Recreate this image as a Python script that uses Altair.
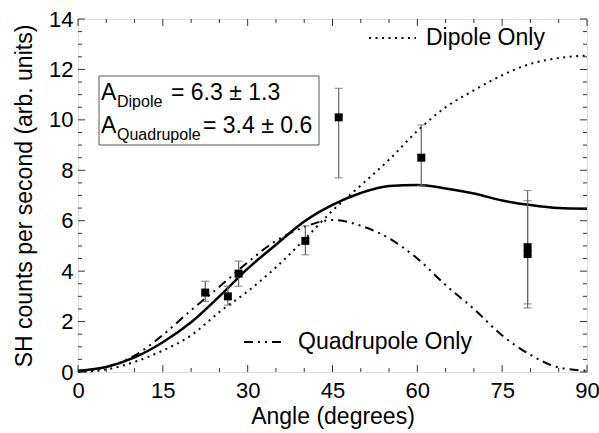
import altair as alt
import pandas as pd

# ---- data ----
angle_grid = [0, 5, 10, 15, 20, 25, 30, 35, 40, 45, 50, 55, 60, 65, 70, 75, 80, 85, 90]
fit_total = [0.05, 0.2, 0.58, 1.18, 1.97, 3.0, 4.1, 5.05, 5.97, 6.63, 7.1, 7.38, 7.42, 7.28, 7.08, 6.8, 6.62, 6.5, 6.47]
dipole_only = [0.0, 0.1, 0.4, 0.85, 1.45, 2.38, 3.2, 4.15, 5.25, 6.4, 7.4, 8.42, 9.56, 10.5, 11.17, 11.77, 12.22, 12.45, 12.55]
quad_only = [0.0, 0.2, 0.65, 1.47, 2.45, 3.38, 4.35, 5.2, 5.75, 6.03, 5.8, 5.3, 4.5, 3.45, 2.5, 1.45, 0.68, 0.18, 0.05]

pt_angle = [22.5, 26.5, 28.4, 40.2, 46.1, 60.7, 79.5, 79.5]
pt_value = [3.15, 3.0, 3.9, 5.2, 10.1, 8.5, 4.95, 4.68]
pt_low = [2.8, 2.65, 3.4, 4.65, 7.7, 7.4, 2.7, 2.54]
pt_high = [3.6, 3.4, 4.4, 5.8, 11.25, 9.8, 7.2, 6.8]

x_major = [0, 15, 30, 45, 60, 75, 90]
x_minor = [5, 10, 20, 25, 35, 40, 50, 55, 65, 70, 80, 85]
y_major = [0, 2, 4, 6, 8, 10, 12, 14]
y_minor = [0.5, 1, 1.5, 2.5, 3, 3.5, 4.5, 5, 5.5, 6.5, 7, 7.5, 8.5, 9, 9.5,
           10.5, 11, 11.5, 12.5, 13, 13.5]

W, H = 509, 353
FONT = "Liberation Sans"

xs = alt.Scale(domain=[0, 90], nice=False, zero=False)
ys = alt.Scale(domain=[0, 14], nice=False, zero=False)

xaxis = alt.Axis(values=x_major, ticks=False, domain=False, grid=False,
                 title="Angle (degrees)", labelFontSize=22, titleFontSize=23,
                 labelPadding=8, titlePadding=4, labelFont=FONT, titleFont=FONT,
                 labelColor="black", titleColor="black", titleFontWeight="normal",
                 labelFlush=False)
yaxis = alt.Axis(values=y_major, ticks=False, domain=False, grid=False,
                 title="SH counts per second (arb. units)", labelFontSize=22,
                 titleFontSize=23, labelPadding=5, titlePadding=12,
                 labelFont=FONT, titleFont=FONT, labelColor="black",
                 titleColor="black", titleFontWeight="normal", labelFlush=False)

def X(f="angle"):
    return alt.X(f + ":Q", scale=xs, axis=xaxis)

def Y(f):
    return alt.Y(f + ":Q", scale=ys, axis=yaxis)

curves = pd.DataFrame({"angle": angle_grid, "total": fit_total,
                       "dipole": dipole_only, "quad": quad_only})
pts = pd.DataFrame({"angle": pt_angle, "value": pt_value,
                    "low": pt_low, "high": pt_high})

base = alt.Chart(curves)
total_line = base.mark_line(color="black", strokeWidth=2.5, interpolate="monotone").encode(
    x=X(), y=Y("total"))
dip_line = base.mark_line(color="black", strokeWidth=2, strokeDash=[2, 4.5],
                          interpolate="monotone").encode(x=X(), y=Y("dipole"))
quad_line = base.mark_line(color="black", strokeWidth=2, strokeDash=[9, 5, 2, 5, 2, 5],
                           interpolate="monotone").encode(x=X(), y=Y("quad"))

pbase = alt.Chart(pts)
err = pbase.mark_rule(color="#666666", strokeWidth=1.2).encode(
    x=X(), y=Y("low"), y2="high:Q")
cap_lo = pbase.mark_tick(color="#666666", orient="horizontal", size=8, thickness=1.2).encode(
    x=X(), y=Y("low"))
cap_hi = pbase.mark_tick(color="#666666", orient="horizontal", size=8, thickness=1.2).encode(
    x=X(), y=Y("high"))
squares = pbase.mark_square(color="black", size=64, opacity=1).encode(
    x=X(), y=Y("value"))

# inward ticks on all four sides
def xticks(vals, length):
    df = pd.DataFrame({"angle": vals})
    b = alt.Chart(df).mark_rule(color="#333333", strokeWidth=1).encode(
        x=X(), y=alt.value(H), y2=alt.value(H - length))
    t = alt.Chart(df).mark_rule(color="#333333", strokeWidth=1).encode(
        x=X(), y=alt.value(0), y2=alt.value(length))
    return b + t

def yticks(vals, length):
    df = pd.DataFrame({"v": vals})
    l = alt.Chart(df).mark_rule(color="#333333", strokeWidth=1).encode(
        y=Y("v"), x=alt.value(0), x2=alt.value(length))
    r = alt.Chart(df).mark_rule(color="#333333", strokeWidth=1).encode(
        y=Y("v"), x=alt.value(W), x2=alt.value(W - length))
    return l + r

ticks = xticks(x_major, 7) + xticks(x_minor, 4) + yticks(y_major, 7) + yticks(y_minor, 4)

# annotation box
one = pd.DataFrame({"k": [0]})
box = alt.Chart(one).mark_rect(fill="white", stroke="#555555", strokeWidth=1).encode(
    x=alt.value(21), x2=alt.value(241), y=alt.value(57), y2=alt.value(126))

def txt(s, x, y, size, align="left", baseline="alphabetic"):
    return alt.Chart(pd.DataFrame({"t": [s]})).mark_text(
        align=align, baseline=baseline, fontSize=size, font=FONT, color="black").encode(
        x=alt.value(x), y=alt.value(y), text="t:N")

ann = (txt("A", 23, 81, 23) + txt("Dipole", 39, 88, 16) + txt("= 6.3 ± 1.3", 93, 81, 23)
       + txt("A", 23, 114, 23) + txt("Quadrupole", 39, 121, 16) + txt("= 3.4 ± 0.6", 125, 114, 23))

# legend entries
leg_d_line = alt.Chart(one).mark_rule(color="black", strokeWidth=2, strokeDash=[2, 4.5]).encode(
    x=alt.value(291), x2=alt.value(338), y=alt.value(19))
leg_q_line = alt.Chart(one).mark_rule(color="black", strokeWidth=2,
                                      strokeDash=[9, 5, 2, 5, 2, 5]).encode(
    x=alt.value(166), x2=alt.value(203), y=alt.value(323))
leg_text = (txt("Dipole Only", 348, 19, 23, baseline="middle")
            + txt("Quadrupole Only", 220, 323, 23, baseline="middle"))

chart = alt.layer(
    total_line, dip_line, quad_line, err, cap_lo, cap_hi, squares, ticks,
    box, ann, leg_d_line, leg_q_line, leg_text
).properties(
    width=W, height=H,
    autosize=alt.AutoSizeParams(type="none"),
    padding={"left": 78, "top": 19, "right": 12, "bottom": 61},
).configure_view(stroke="#333333", strokeWidth=1).configure(background="white")

chart.save("out.html", embed_options={"renderer": "svg", "actions": False})
